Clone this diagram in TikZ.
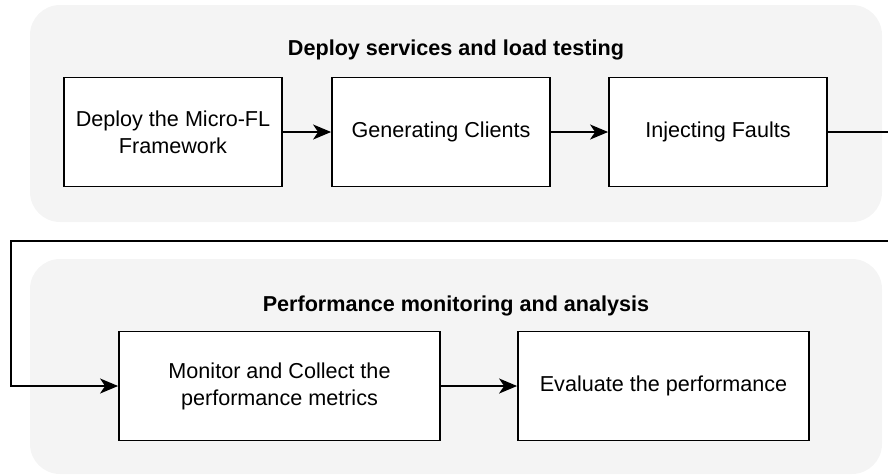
\documentclass[tikz,border=0pt]{standalone}
\usepackage{fontspec}
\setmainfont{Liberation Sans}
\usetikzlibrary{arrows.meta}
\definecolor{groupfill}{HTML}{F4F4F4}
\tikzset{
  group/.style={fill=groupfill, draw=none, rounded corners=30pt},
  stepbox/.style={draw=black, fill=white, line width=1.8pt, minimum width=218pt, minimum height=109pt, align=center, inner sep=0pt, font=\fontsize{21.6}{27}\selectfont},
  grouptitle/.style={font=\fontsize{21.6}{26}\selectfont\bfseries, inner sep=0pt},
  conn/.style={draw=black, line width=1.8pt, -{Stealth[length=18pt,width=15pt,inset=5pt]}},
}
\begin{document}
\begin{tikzpicture}[x=1pt,y=-1pt]
\useasboundingbox (0,0) rectangle (888,475);
\clip (0,0) rectangle (888,475);
\fill[group] (30,5) rectangle (882,222);
\fill[group] (30,259) rectangle (882,474);
\node[grouptitle] (t1) at (456,50) {Deploy services and load testing};
\node[grouptitle] (t2) at (456,306) {Performance monitoring and analysis};
\node[stepbox] (deploy) at (173,132) {Deploy the Micro-FL\\Framework};
\node[stepbox] (gen) at (441,132) {Generating Clients};
\node[stepbox] (inject) at (718,132) {Injecting Faults};
\node[stepbox, minimum width=321pt] (monitor) at (279.5,386) {Monitor and Collect the\\performance metrics};
\node[stepbox, minimum width=291pt] (eval) at (663.5,386) {Evaluate the performance};
\coordinate (r1) at (900,132);
\coordinate (r2) at (900,241);
\coordinate (l1) at (11,241);
\coordinate (l2) at (11,386);
\draw[conn] (deploy) -- (gen);
\draw[conn] (gen) -- (inject);
\draw[conn] (inject.east) -- (r1) -- (r2) -- (l1) -- (l2) -- (monitor.west);
\draw[conn] (monitor) -- (eval);
\end{tikzpicture}
\end{document}
